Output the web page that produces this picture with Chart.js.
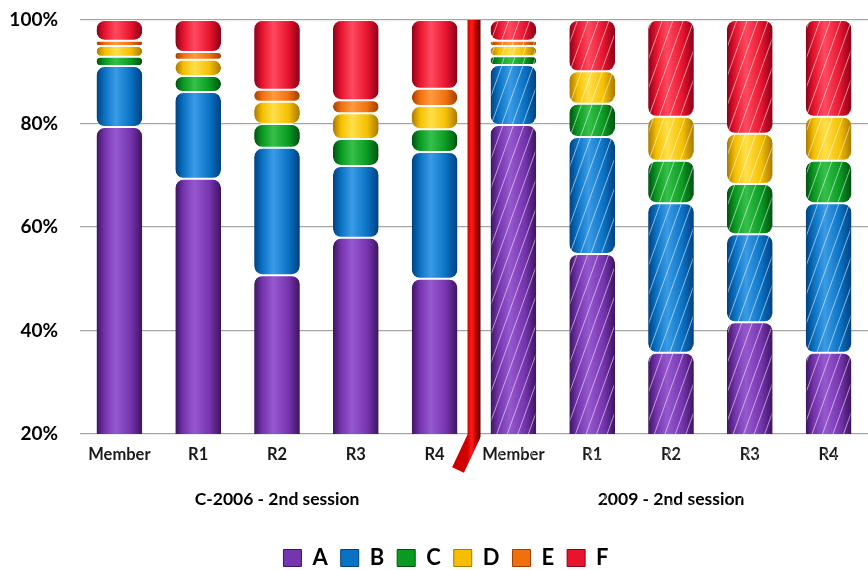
<!DOCTYPE html>
<html><head><meta charset="utf-8">
<script src="https://cdn.jsdelivr.net/npm/chart.js@4.4.1/dist/chart.umd.min.js"></script>
<style>html,body{margin:0;padding:0;background:#fff}#wrap{width:868px;height:570px;position:relative;overflow:hidden}</style>
</head><body><div id="wrap"><canvas id="c"></canvas></div>
<script>
const categories = ['Member','R1','R2','R3','R4','Member','R1','R2','R3','R4'];
const groups = ['C-2006 - 2nd session','2009 - 2nd session'];
const seriesNames = ['A','B','C','D','E','F'];
const seriesA = [79.3,69.3,50.7,57.9,50.0,79.7,54.8,35.7,41.6,35.7];
const seriesB = [11.8,16.8,24.6,13.9,24.5,11.6,22.6,28.9,17.0,28.9];
const seriesC = [1.8,3.1,4.6,5.2,4.4,1.7,6.4,8.2,9.7,8.2];
const seriesD = [2.1,3.1,4.3,5.0,4.5,2.0,6.3,8.5,9.7,8.5];
const seriesE = [1.0,1.5,2.3,2.5,3.3,1.0,0,0,0,0];
const seriesF = [4.0,6.2,13.5,15.5,13.3,4.0,9.9,18.7,22.0,18.7];
const yTicks = [20,40,60,80,100];
const hatchedFrom = 5; // 2009 bars are hatched

const allSeries = [seriesA,seriesB,seriesC,seriesD,seriesE,seriesF];
// [edge, mid, light]
const shades = [
  ['#3c1460','#7634ae','#9658cf'],
  ['#00407e','#0a72c4','#3a9be6'],
  ['#005010','#0a9a22','#35c04a'],
  ['#a87800','#f5bf00','#ffe04a'],
  ['#a03e00','#f0700e','#ff9a40'],
  ['#8a0018','#e8142e','#ff4a60']
];
const BAR_PCT = 0.58;

function cylFill(si){
  return (ctx)=>{
    const chart = ctx.chart;
    const s = shades[si];
    if(!chart.chartArea || !chart.scales.x) return s[1];
    const xs = chart.scales.x;
    const cx = xs.getPixelForValue(ctx.dataIndex);
    const w = xs.width/categories.length*BAR_PCT;
    const g = chart.ctx.createLinearGradient(cx-w/2,0,cx+w/2,0);
    g.addColorStop(0,s[0]);
    g.addColorStop(0.18,s[1]);
    g.addColorStop(0.42,s[2]);
    g.addColorStop(0.75,s[1]);
    g.addColorStop(1,s[0]);
    return g;
  };
}

const hatchPlugin = {
  id:'hatch',
  afterDatasetsDraw(chart){
    const ctx = chart.ctx;
    chart.data.datasets.forEach((ds,di)=>{
      const meta = chart.getDatasetMeta(di);
      meta.data.forEach((bar,i)=>{
        if(i < hatchedFrom) return;
        const p = bar.getProps(['x','y','base','width'],true);
        const h = Math.abs(p.base-p.y);
        if(h < 1) return;
        const left = p.x-p.width/2, top = Math.min(p.y,p.base);
        ctx.save();
        ctx.beginPath();
        ctx.rect(left+1, top+1, p.width-2, h-2);
        ctx.clip();
        ctx.strokeStyle = 'rgba(255,255,255,0.55)';
        ctx.lineWidth = 1;
        ctx.beginPath();
        const slope = 0.36;
        const y1 = top+h, y2 = top;
        for(let k=-220;k<p.width+20;k+=10.5){
          const x1 = left + k;
          ctx.moveTo(x1, y1);
          ctx.lineTo(x1 + (y1-y2)*slope, y2);
        }
        ctx.stroke();
        ctx.restore();
      });
    });
  }
};

const dividerPlugin = {
  id:'divider',
  afterDatasetsDraw(chart){
    const ctx = chart.ctx;
    const xs = chart.scales.x;
    const xm = (xs.getPixelForValue(hatchedFrom-1)+xs.getPixelForValue(hatchedFrom))/2;
    const {top,bottom} = chart.chartArea;
    ctx.save();
    const g = ctx.createLinearGradient(xm-7,0,xm+7,0);
    g.addColorStop(0,'#d00000');
    g.addColorStop(0.35,'#ff1a1a');
    g.addColorStop(0.7,'#b00000');
    g.addColorStop(1,'#3a0000');
    ctx.strokeStyle = g;
    ctx.lineWidth = 13;
    ctx.lineJoin = 'round';
    ctx.lineCap = 'butt';
    ctx.beginPath();
    ctx.moveTo(xm, top);
    ctx.lineTo(xm, bottom+2);
    ctx.lineTo(xm-16, bottom+36);
    ctx.stroke();
    ctx.restore();
  }
};

const legendShift = {
  id:'legendShift',
  afterLayout(chart){
    const l = chart.legend;
    if(l){ l.left += 12; l.right += 12; l.top += 9; l.bottom += 9; }
  }
};

const datasets = seriesNames.map((n,si)=>({
  label:n,
  data:allSeries[si],
  backgroundColor:cylFill(si),
  borderColor:'#ffffff',
  borderWidth:{top:1,bottom:1,left:0,right:0},
  borderSkipped:false,
  borderRadius:{topLeft:9,topRight:9,bottomLeft:9,bottomRight:9},
  barPercentage:BAR_PCT,
  categoryPercentage:1
}));

new Chart(document.getElementById('c'),{
  type:'bar',
  data:{labels:categories,datasets},
  options:{
    responsive:true,
    maintainAspectRatio:false,
    animation:false,
    layout:{padding:{top:20,left:0,right:0,bottom:0}},
    plugins:{
      tooltip:{enabled:false},
      legend:{
        position:'bottom',
        labels:{
          boxWidth:18,boxHeight:17,padding:13,
          color:'#000',
          font:{family:'Lato',size:22,weight:'bold'},
          generateLabels(){
            return seriesNames.map((n,i)=>({text:n,fillStyle:shades[i][1],strokeStyle:shades[i][0],lineWidth:1,hidden:false,datasetIndex:i,fontColor:'#000'}));
          }
        },
        onClick(){}
      }
    },
    scales:{
      x:{
        stacked:true,
        weight:0,
        grid:{display:false},
        border:{display:false},
        ticks:{color:'#1a1a1a',font:{family:'Lato',size:16.5,weight:'bold'},padding:3},
        afterFit(s){s.height=32;}
      },
      x2:{
        type:'category',
        labels:groups,
        position:'bottom',
        offset:true,
        weight:1,
        grid:{display:false},
        border:{display:false},
        ticks:{color:'#000',font:{family:'Lato',size:17.5,weight:'bold'},padding:15},
        afterFit(s){s.height=59;}
      },
      y:{
        stacked:true,
        min:20,max:100,
        afterBuildTicks(s){s.ticks = yTicks.map(v=>({value:v}));},
        grid:{color:'#a6a6a6',drawTicks:true,tickLength:20,tickColor:'rgba(0,0,0,0)',lineWidth:1.3},
        border:{display:false},
        ticks:{color:'#000',padding:2,font:{family:'Lato',size:19,weight:'bold'},callback:v=>v+'%'},
        afterFit(s){s.width=80;}
      }
    }
  },
  plugins:[hatchPlugin,dividerPlugin,legendShift]
});
</script>
</body></html>
